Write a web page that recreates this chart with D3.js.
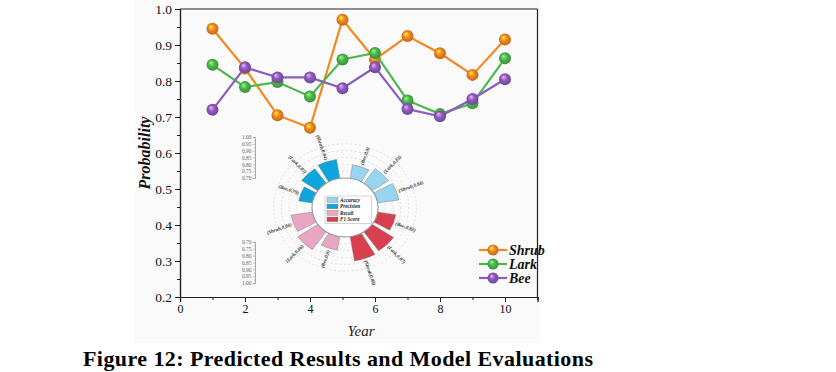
<!DOCTYPE html>
<html>
<head>
<meta charset="utf-8">
<script src="https://cdn.jsdelivr.net/npm/d3@7"></script>
<style>
  body { margin: 0; background: #fff; }
  svg { display: block; }
  text { font-family: "Liberation Serif", "Times New Roman", serif; }
</style>
</head>
<body>
<svg id="chart" width="836" height="372"></svg>
<script>
// line chart data
const years = [1, 2, 3, 4, 5, 6, 7, 8, 9, 10];
const shrub = [0.945, 0.835, 0.705, 0.670, 0.970, 0.860, 0.925, 0.877, 0.817, 0.915];
const lark  = [0.845, 0.783, 0.797, 0.757, 0.860, 0.878, 0.746, 0.708, 0.738, 0.863];
const bee   = [0.720, 0.838, 0.810, 0.810, 0.780, 0.838, 0.722, 0.702, 0.750, 0.805];
const seriesNames = ["Shrub", "Lark", "Bee"];
const seriesColors = ["#f5871f", "#4cb84c", "#8c5cbf"];
const yTicks = [0.2, 0.3, 0.4, 0.5, 0.6, 0.7, 0.8, 0.9, 1.0];
const xTicks = [0, 2, 4, 6, 8, 10];

// polar inset data (metric groups, species inside each)
const metrics = ["Accuracy", "F1 Score", "Recall", "Precision"];
const legendOrder = ["Accuracy", "Precision", "Recall", "F1 Score"];
const metricColors = {"Accuracy": "#97d5f0", "Precision": "#0da6dc", "Recall": "#e9a6c3", "F1 Score": "#d8404f"};
const species = ["Bee", "Lark", "Shrub"];
const accuracy  = [0.80, 0.83, 0.84];
const f1score   = [0.82, 0.87, 0.88];
const recall    = [0.80, 0.86, 0.84];
const precision = [0.79, 0.83, 0.84];
const radialTicks = [0.70, 0.75, 0.80, 0.85, 0.90, 0.95, 1.00];

const svg = d3.select("#chart");
const defs = svg.append("defs");

// faint panel behind the figure
svg.append("rect").attr("x", 135).attr("y", 0).attr("width", 406).attr("height", 343)
  .attr("fill", "#fafafa");

const x = d3.scaleLinear().domain([0, 11]).range([180, 537.5]);
const y = d3.scaleLinear().domain([0.2, 1.0]).range([297, 9]);

// sphere gradients
seriesColors.forEach((c, i) => {
  const g = defs.append("radialGradient").attr("id", "ball" + i)
    .attr("cx", "50%").attr("cy", "50%").attr("r", "55%")
    .attr("fx", "35%").attr("fy", "30%");
  g.append("stop").attr("offset", "0%").attr("stop-color", d3.color(c).brighter(1.8));
  g.append("stop").attr("offset", "45%").attr("stop-color", c);
  g.append("stop").attr("offset", "100%").attr("stop-color", d3.color(c).darker(0.8));
});

// frame
svg.append("line").attr("x1", x(0)).attr("x2", x(11)).attr("y1", y(1)).attr("y2", y(1))
  .attr("stroke", "#222").attr("stroke-width", 1.2);
svg.append("line").attr("x1", x(11)).attr("x2", x(11)).attr("y1", y(1)).attr("y2", y(0.2))
  .attr("stroke", "#222").attr("stroke-width", 1.2);

// axes
const yAxis = svg.append("g").attr("transform", `translate(${x(0)},0)`)
  .call(d3.axisLeft(y).tickValues(yTicks).tickFormat(d3.format(".1f")).tickSize(5).tickPadding(3));
svg.append("g").attr("transform", `translate(${x(0)},0)`)
  .call(d3.axisLeft(y).tickValues(yTicks.slice(0, -1).map(v => v + 0.05)).tickFormat("").tickSize(3));
const xAxis = svg.append("g").attr("transform", `translate(0,${y(0.2)})`)
  .call(d3.axisBottom(x).tickValues(xTicks).tickSize(5).tickPadding(2));
svg.append("g").attr("transform", `translate(0,${y(0.2)})`)
  .call(d3.axisBottom(x).tickValues([1, 3, 5, 7, 9, 11]).tickFormat("").tickSize(3));
svg.selectAll(".domain").attr("stroke", "#222").attr("stroke-width", 1.2);
svg.selectAll(".tick line").attr("stroke", "#222");
yAxis.selectAll("text").attr("font-size", 13.5).attr("fill", "#111")
  .style("font-family", "Liberation Serif");
xAxis.selectAll("text").attr("font-size", 12).attr("fill", "#111")
  .style("font-family", "Liberation Serif");

svg.append("text").attr("x", 361).attr("y", 336).attr("text-anchor", "middle")
  .attr("font-size", 15).attr("font-style", "italic").attr("fill", "#222").text("Year");
svg.append("text").attr("transform", `translate(150,${(y(1) + y(0.2)) / 2}) rotate(-90)`)
  .attr("text-anchor", "middle").attr("font-size", 16).attr("font-style", "italic")
  .attr("font-weight", "bold").attr("fill", "#111").text("Probability");

// ---- polar inset ----
const cx = 345, cy = 207.5, stretch = 1.12;
const r = d3.scaleLinear().domain([0.7, 1.0]).range([29.5, 70.5]);
const groupAngle = d3.scaleBand().domain(metrics).range([0, 2 * Math.PI])
  .paddingInner(0.2).paddingOuter(0.1);
const speciesAngle = d3.scaleBand().domain(species).range([0, groupAngle.bandwidth()])
  .paddingInner(0.2);
const metricValues = {"Accuracy": accuracy, "F1 Score": f1score, "Recall": recall, "Precision": precision};

const inset = svg.append("g").attr("transform", `translate(${cx},${cy}) scale(${stretch},1)`);
inset.selectAll(".grid").data(radialTicks.slice(1, -1)).enter().append("circle")
  .attr("r", d => r(d)).attr("fill", "none").attr("stroke", "#d4d4d4")
  .attr("stroke-width", 0.6).attr("stroke-dasharray", "2,2");

const bars = [];
metrics.forEach(m => {
  species.forEach((s, i) => {
    const a0 = groupAngle(m) + speciesAngle(s);
    bars.push({metric: m, species: s, value: metricValues[m][i], a0: a0, a1: a0 + speciesAngle.bandwidth()});
  });
});

const arc = d3.arc().innerRadius(r(0.7)).outerRadius(d => r(d.value))
  .startAngle(d => d.a0).endAngle(d => d.a1);
inset.selectAll(".bar").data(bars).enter().append("path")
  .attr("d", arc).attr("fill", d => metricColors[d.metric])
  .attr("stroke", "#777").attr("stroke-width", 0.4);

inset.append("circle").attr("r", r(0.7)).attr("fill", "#fff")
  .attr("stroke", "#999").attr("stroke-width", 1);

// bar labels
inset.selectAll(".lab").data(bars).enter().append("text")
  .attr("transform", d => {
    const a = (d.a0 + d.a1) / 2;
    const rr = r(d.value) + 2;
    const px = Math.sin(a) * rr, py = -Math.cos(a) * rr;
    const deg = a * 180 / Math.PI;
    const rot = deg < 180 ? deg - 90 : deg + 90;
    return `translate(${px},${py}) scale(${1 / stretch},1) rotate(${rot})`;
  })
  .attr("text-anchor", d => ((d.a0 + d.a1) / 2 * 180 / Math.PI) < 180 ? "start" : "end")
  .attr("dy", "0.35em").attr("font-size", 5).attr("font-weight", "bold").attr("font-style", "italic")
  .attr("fill", "#333").text(d => `(${d.species},${d.value})`);

// radial scale axes on the left
const rAxisTop = d3.scaleLinear().domain([0.7, 1.0]).range([178, 137]);
const rAxisBot = d3.scaleLinear().domain([0.7, 1.0]).range([242, 283]);
[rAxisTop, rAxisBot].forEach(sc => {
  const g = svg.append("g").attr("class", "raxis").attr("transform", "translate(255,0)")
    .call(d3.axisLeft(sc).tickValues(radialTicks).tickFormat(d3.format(".2f")).tickSize(2).tickPadding(1.5));
  svg.append("g").attr("class", "raxis").attr("transform", "translate(255,0)")
    .call(d3.axisLeft(sc).tickValues(radialTicks.slice(0, -1).map(v => v + 0.025)).tickFormat("").tickSize(1));
  g.selectAll("text").attr("font-size", 5.5).attr("fill", "#666").style("font-family", "Liberation Serif");
});
svg.selectAll(".raxis").selectAll("path, line").attr("stroke", "#999").attr("stroke-width", 0.6);

// inset legend
const lg = svg.append("g");
lg.append("rect").attr("x", 325).attr("y", 196).attr("width", 46.5).attr("height", 27.5)
  .attr("fill", "#fff").attr("stroke", "#aaa").attr("stroke-width", 0.5);
legendOrder.forEach((m, i) => {
  lg.append("rect").attr("x", 327).attr("y", 197.7 + i * 6.45).attr("width", 11).attr("height", 4.6)
    .attr("fill", metricColors[m]).attr("stroke", "#777").attr("stroke-width", 0.4);
  lg.append("text").attr("x", 340).attr("y", 200 + i * 6.45).attr("dy", "0.35em")
    .attr("font-size", 5.2).attr("font-style", "italic").attr("font-weight", "bold")
    .attr("fill", "#222").text(m);
});

// ---- lines and spheres ----
const allSeries = [shrub, lark, bee];
const line = d3.line().x((d, i) => x(years[i])).y(d => y(d));
allSeries.forEach((vals, si) => {
  svg.append("path").datum(vals).attr("d", line).attr("fill", "none")
    .attr("stroke", seriesColors[si]).attr("stroke-width", 2.2);
  svg.selectAll(".pt" + si).data(vals).enter().append("circle")
    .attr("cx", (d, i) => x(years[i])).attr("cy", d => y(d)).attr("r", 6)
    .attr("fill", `url(#ball${si})`);
});

// main legend
seriesNames.forEach((n, i) => {
  const ly = 250 + i * 14;
  svg.append("line").attr("x1", 479).attr("x2", 507).attr("y1", ly).attr("y2", ly)
    .attr("stroke", seriesColors[i]).attr("stroke-width", 2.2);
  svg.append("circle").attr("cx", 493).attr("cy", ly).attr("r", 5.5).attr("fill", `url(#ball${i})`);
  svg.append("text").attr("x", 509).attr("y", ly).attr("dy", "0.35em")
    .attr("font-size", 14).attr("font-style", "italic").attr("font-weight", "bold")
    .attr("fill", "#111").text(n);
});

// caption
svg.append("text").attr("x", 83).attr("y", 366).attr("font-size", 22).attr("font-weight", "bold")
  .attr("textLength", 510).attr("lengthAdjust", "spacing")
  .attr("fill", "#000").text("Figure 12: Predicted Results and Model Evaluations");
</script>
</body>
</html>
